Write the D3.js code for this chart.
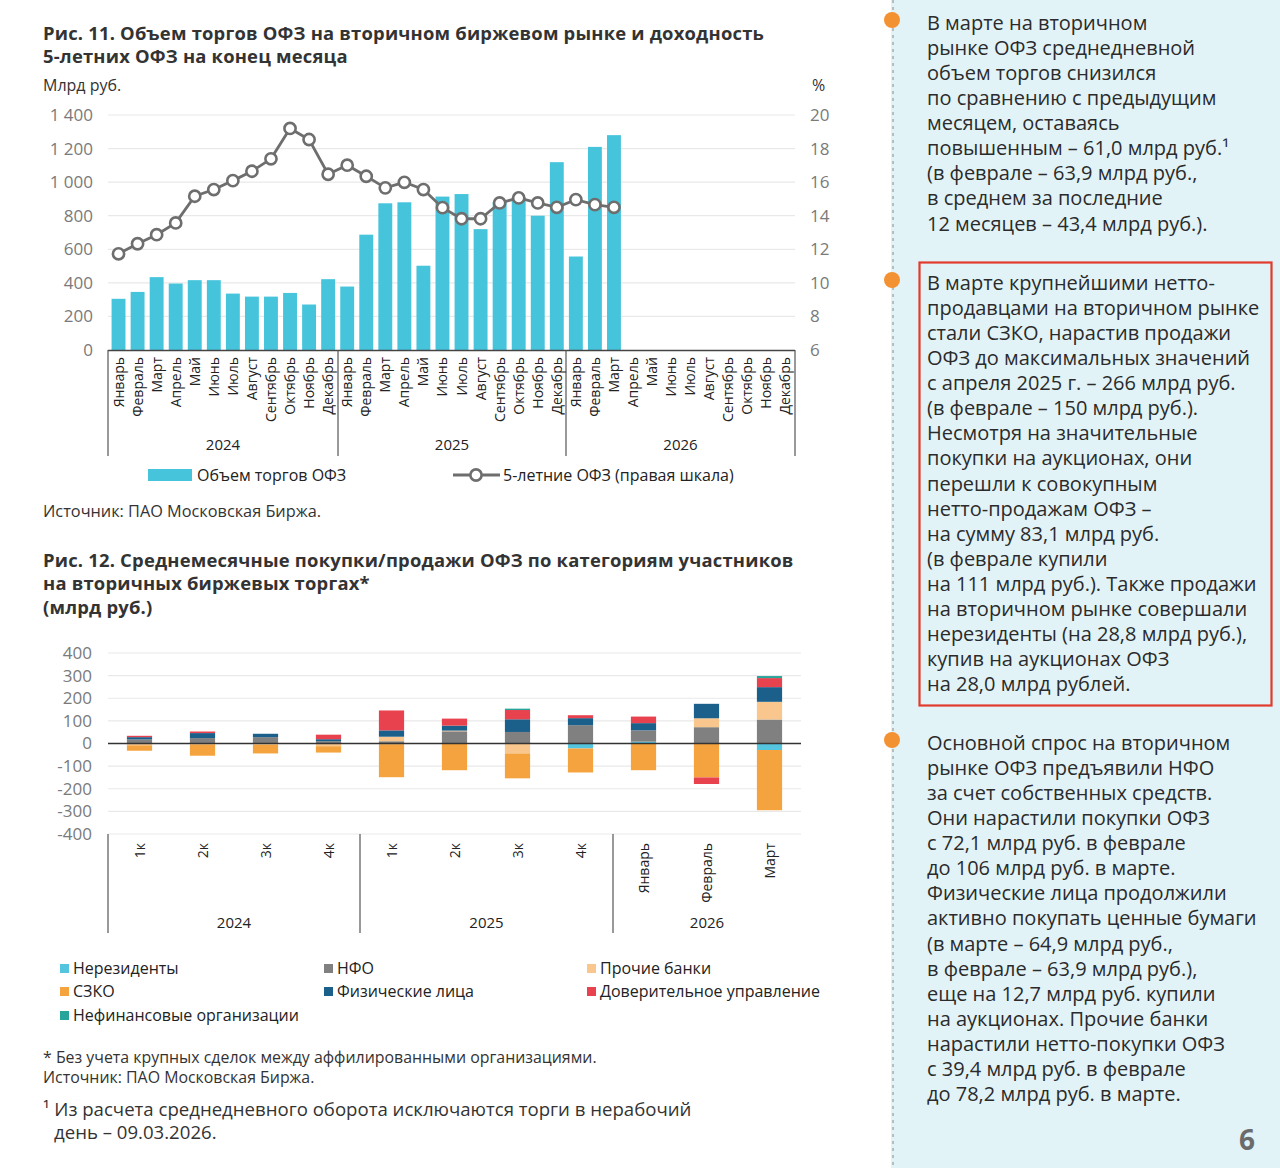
<!DOCTYPE html>
<html><head><meta charset="utf-8">
<script src="https://cdn.jsdelivr.net/npm/d3@7"></script>
<style>
html,body{margin:0;padding:0;background:#fff;}
svg text{font-family:"Open Sans",sans-serif;}
</style></head>
<body><svg id="page" width="1280" height="1168"></svg>
<script>
// ---------- DATA ----------
const years = ["2024","2025","2026"];
const monthNames = ["Январь","Февраль","Март","Апрель","Май","Июнь","Июль","Август","Сентябрь","Октябрь","Ноябрь","Декабрь"];
const volume = [305,346,434,396,416,416,336,318,318,340,271,422,
                378,687,874,880,502,914,929,720,880,910,800,1119,
                557,1210,1280];
const yield5 = [11.73,12.33,12.87,13.57,15.16,15.56,16.09,16.65,17.39,19.20,18.54,16.47,
                17.01,16.35,15.66,15.99,15.56,14.48,13.82,13.82,14.76,15.06,14.76,14.50,
                14.96,14.66,14.50];
const leftTicks = [0,200,400,600,800,1000,1200,1400];
const rightTicks = [6,8,10,12,14,16,18,20];

const periodLabels = ["1к","2к","3к","4к","1к","2к","3к","4к","Январь","Февраль","Март"];
const periodYears = ["2024","2024","2024","2024","2025","2025","2025","2025","2026","2026","2026"];
const nonres  = [0,0,0,0,-3,0,0,-22,8,0,-28.8];
const nfo     = [18,24,28,10,10,54,51,81,50,72.1,106];
const otherBanks = [-8,-4,-6,-12,20,3,-44,0,0,39.4,78.2];
const szko    = [-24,-50,-38,-28,-146,-118,-110,-106,-118,-150,-266];
const fiz     = [10,22,15,9,28,22,56,31,32,63.9,64.9];
const du      = [6,7,0,20,88,31,41,13,29,-29,40];
const nonfin  = [0,0,0,0,0,0,6,0,0,0,9];
const seriesNames = ["Нерезиденты","НФО","Прочие банки","СЗКО","Физические лица","Доверительное управление","Нефинансовые организации"];
const seriesValues = [nonres,nfo,otherBanks,szko,fiz,du,nonfin];
const seriesColors = ["#55c4df","#808080","#f9c78d","#f5a33e","#1b5f8b","#e8424f","#27a59b"];
const ticks2 = [-400,-300,-200,-100,0,100,200,300,400];

const text1 = ["В марте на вторичном","рынке ОФЗ среднедневной","объем торгов снизился","по сравнению с предыдущим","месяцем, оставаясь","повышенным – 61,0 млрд руб.¹","(в феврале – 63,9 млрд руб.,","в среднем за последние","12 месяцев – 43,4 млрд руб.)."];
const text2 = ["В марте крупнейшими нетто-","продавцами на вторичном рынке","стали СЗКО, нарастив продажи","ОФЗ до максимальных значений","с апреля 2025 г. – 266 млрд руб.","(в феврале – 150 млрд руб.).","Несмотря на значительные","покупки на аукционах, они","перешли к совокупным","нетто-продажам ОФЗ –","на сумму 83,1 млрд руб.","(в феврале купили","на 111 млрд руб.). Также продажи","на вторичном рынке совершали","нерезиденты (на 28,8 млрд руб.),","купив на аукционах ОФЗ","на 28,0 млрд рублей."];
const text3 = ["Основной спрос на вторичном","рынке ОФЗ предъявили НФО","за счет собственных средств.","Они нарастили покупки ОФЗ","с 72,1 млрд руб. в феврале","до 106 млрд руб. в марте.","Физические лица продолжили","активно покупать ценные бумаги","(в марте – 64,9 млрд руб.,","в феврале – 63,9 млрд руб.),","еще на 12,7 млрд руб. купили","на аукционах. Прочие банки","нарастили нетто-покупки ОФЗ","с 39,4 млрд руб. в феврале","до 78,2 млрд руб. в марте."];

// ---------- PAGE ----------
const svg = d3.select("#page");
const dark = "#333", grey = "#7a7a7a", gridC = "#e9e9e9";
const titleFont = "Roboto, sans-serif";

function title(lines, x, y0, lh){
  lines.forEach((t,i)=>svg.append("text").attr("x",x).attr("y",y0+i*lh)
    .attr("font-family",titleFont).attr("font-weight",700).attr("font-size",18.4)
    .attr("letter-spacing",0.2).attr("fill",dark).text(t));
}

// ---------- CHART 1 ----------
title(["Рис. 11. Объем торгов ОФЗ на вторичном биржевом рынке и доходность","5-летних ОФЗ на конец месяца"],43,39.5,23.5);
svg.append("text").attr("x",43).attr("y",91).attr("font-family",titleFont).attr("font-size",16).attr("fill",dark).text("Млрд руб.");
svg.append("text").attr("x",812).attr("y",91).attr("font-family",titleFont).attr("font-size",16).attr("fill",dark).text("%");

const allMonths = [];
years.forEach(y=>monthNames.forEach(m=>allMonths.push(y+"-"+m)));
const x1 = d3.scaleBand().domain(allMonths).range([109,795]).paddingInner(0.27).paddingOuter(0.135);
const yL = d3.scaleLinear().domain([0,1400]).range([350,115]);
const yR = d3.scaleLinear().domain([6,20]).range([350,115]);

const g1 = svg.append("g");
g1.selectAll("line.grid").data(leftTicks.slice(1)).join("line")
  .attr("x1",108).attr("x2",795).attr("y1",d=>yL(d)).attr("y2",d=>yL(d))
  .attr("stroke",gridC).attr("stroke-width",1.2);

const axL = g1.append("g").attr("transform","translate(93,0)")
  .call(d3.axisLeft(yL).tickValues(leftTicks).tickSize(0).tickPadding(0)
    .tickFormat(d=>d3.format(",")(d).replace(/,/g," ")));
axL.select(".domain").remove();
axL.selectAll("text").attr("font-size",17).attr("fill",grey).attr("font-family","Open Sans, sans-serif");

const axR = g1.append("g").attr("transform","translate(810,0)")
  .call(d3.axisRight(yR).tickValues(rightTicks).tickSize(0).tickPadding(0));
axR.select(".domain").remove();
axR.selectAll("text").attr("font-size",17).attr("fill",grey).attr("font-family","Open Sans, sans-serif");

g1.selectAll("rect.vol").data(volume).join("rect")
  .attr("x",(d,i)=>x1(allMonths[i])).attr("width",x1.bandwidth())
  .attr("y",d=>yL(d)).attr("height",d=>yL(0)-yL(d)).attr("fill","#46c4dc");

const cx = (d,i)=>x1(allMonths[i])+x1.bandwidth()/2;
g1.append("path").datum(yield5)
  .attr("d",d3.line().x(cx).y(d=>yR(d)))
  .attr("fill","none").attr("stroke","#6e6e6e").attr("stroke-width",2.8);
g1.selectAll("circle.pt").data(yield5).join("circle")
  .attr("cx",cx).attr("cy",d=>yR(d)).attr("r",5.6)
  .attr("fill","#fff").attr("stroke","#6e6e6e").attr("stroke-width",2.6);

// x axis chart 1
g1.append("line").attr("x1",108).attr("x2",795).attr("y1",350.5).attr("y2",350.5).attr("stroke","#444").attr("stroke-width",1.3);
[108,338,566,795].forEach(x=>g1.append("line").attr("x1",x).attr("x2",x).attr("y1",350).attr("y2",456).attr("stroke","#555").attr("stroke-width",1.2));
g1.selectAll("text.mon").data(allMonths).join("text")
  .attr("transform",d=>`translate(${x1(d)+x1.bandwidth()/2+5},357) rotate(-90)`)
  .attr("text-anchor","end").attr("font-size",14).attr("fill","#222")
  .text(d=>d.split("-")[1]);
[[108,338],[338,566],[566,795]].forEach((r,i)=>g1.append("text").attr("x",(r[0]+r[1])/2).attr("y",450)
  .attr("text-anchor","middle").attr("font-size",15).attr("fill","#222").text(years[i]));

// legend chart 1
g1.append("rect").attr("x",148).attr("y",469).attr("width",44).attr("height",12).attr("fill","#46c4dc");
g1.append("text").attr("x",197).attr("y",481).attr("font-size",16).attr("fill","#222").text("Объем торгов ОФЗ");
g1.append("line").attr("x1",453).attr("x2",500).attr("y1",475).attr("y2",475).attr("stroke","#6e6e6e").attr("stroke-width",2.8);
g1.append("circle").attr("cx",476).attr("cy",475).attr("r",5.6).attr("fill","#fff").attr("stroke","#6e6e6e").attr("stroke-width",2.6);
g1.append("text").attr("x",503).attr("y",481).attr("font-size",16).attr("fill","#222").text("5-летние ОФЗ (правая шкала)");
svg.append("text").attr("x",43).attr("y",517).attr("font-family",titleFont).attr("font-size",16.3).attr("fill",dark).text("Источник: ПАО Московская Биржа.");

// ---------- CHART 2 ----------
title(["Рис. 12. Среднемесячные покупки/продажи ОФЗ по категориям участников","на вторичных биржевых торгах*","(млрд руб.)"],43,566.5,23.5);

const idx = d3.range(periodLabels.length);
const x2 = d3.scaleBand().domain(idx).range([108,801]).paddingInner(0.6).paddingOuter(0.3);
const y2 = d3.scaleLinear().domain([-400,400]).range([834,653]);
const g2 = svg.append("g");
g2.selectAll("line.grid").data(ticks2.filter(d=>d!==0)).join("line")
  .attr("x1",108).attr("x2",801).attr("y1",d=>y2(d)).attr("y2",d=>y2(d))
  .attr("stroke",gridC).attr("stroke-width",1.2);
const ax2 = g2.append("g").attr("transform","translate(92,0)")
  .call(d3.axisLeft(y2).tickValues(ticks2).tickSize(0).tickPadding(0).tickFormat(d=>String(d)));
ax2.select(".domain").remove();
ax2.selectAll("text").attr("font-size",17).attr("fill",grey).attr("font-family","Open Sans, sans-serif");

const rows = idx.map(i=>{const o={i}; seriesNames.forEach((s,k)=>o[s]=seriesValues[k][i]); return o;});
const stack = d3.stack().keys(seriesNames).offset(d3.stackOffsetDiverging)(rows);
stack.forEach((layer,k)=>{
  g2.selectAll("rect.s"+k).data(layer).join("rect")
    .attr("x",d=>x2(d.data.i)).attr("width",x2.bandwidth())
    .attr("y",d=>y2(Math.max(d[0],d[1]))).attr("height",d=>Math.abs(y2(d[0])-y2(d[1])))
    .attr("fill",seriesColors[k]);
});
g2.append("line").attr("x1",108).attr("x2",801).attr("y1",y2(0)).attr("y2",y2(0)).attr("stroke","#333").attr("stroke-width",1.3);
[108,360,613].forEach(x=>g2.append("line").attr("x1",x).attr("x2",x).attr("y1",834).attr("y2",933).attr("stroke","#555").attr("stroke-width",1.2));
g2.selectAll("text.per").data(idx).join("text")
  .attr("transform",d=>`translate(${x2(d)+x2.bandwidth()/2+5},843) rotate(-90)`)
  .attr("text-anchor","end").attr("font-size",14).attr("fill","#222")
  .text(d=>periodLabels[d]);
[[108,360,"2024"],[360,613,"2025"],[613,801,"2026"]].forEach(r=>g2.append("text").attr("x",(r[0]+r[1])/2).attr("y",928)
  .attr("text-anchor","middle").attr("font-size",15).attr("fill","#222").text(r[2]));

// legend chart 2
const legPos = [[60,969],[324,969],[587,969],[60,992],[324,992],[587,992],[60,1016]];
seriesNames.forEach((s,k)=>{
  const [lx,ly]=legPos[k];
  g2.append("rect").attr("x",lx).attr("y",ly-5).attr("width",9).attr("height",9).attr("fill",seriesColors[k]);
  g2.append("text").attr("x",lx+13).attr("y",ly+5).attr("font-family",titleFont).attr("font-size",16).attr("fill","#222").text(s);
});
svg.append("text").attr("x",43).attr("y",1063).attr("font-family",titleFont).attr("font-size",15.9).attr("fill",dark).text("* Без учета крупных сделок между аффилированными организациями.");
svg.append("text").attr("x",43).attr("y",1083).attr("font-family",titleFont).attr("font-size",15.9).attr("fill",dark).text("Источник: ПАО Московская Биржа.");
svg.append("text").attr("x",43).attr("y",1116).attr("font-family",titleFont).attr("font-size",18.6).attr("fill",dark).text("¹ Из расчета среднедневного оборота исключаются торги в нерабочий");
svg.append("text").attr("x",54).attr("y",1139).attr("font-family",titleFont).attr("font-size",18.6).attr("fill",dark).text("день – 09.03.2026.");

// ---------- RIGHT PANEL ----------
svg.append("rect").attr("x",891).attr("y",0).attr("width",389).attr("height",1168).attr("fill","#e2f3f8");
svg.append("line").attr("x1",893).attr("x2",893).attr("y1",0).attr("y2",1168).attr("stroke","#888").attr("stroke-width",1).attr("stroke-dasharray","3,4");
[20,280,740].forEach(y=>svg.append("circle").attr("cx",892).attr("cy",y).attr("r",8).attr("fill","#f39232"));
svg.append("rect").attr("x",919.5).attr("y",262.5).attr("width",352).attr("height",443).attr("fill","none").attr("stroke","#e23b2e").attr("stroke-width",2.2);
function block(lines,y0){
  lines.forEach((t,i)=>svg.append("text").attr("x",927).attr("y",y0+i*25.07)
    .attr("font-size",20).attr("fill","#2b2b2b").attr("font-family","Open Sans, sans-serif").text(t));
}
block(text1,30);
block(text2,290);
block(text3,750);
svg.append("text").attr("x",1255).attr("y",1150).attr("text-anchor","end").attr("font-size",28).attr("font-weight",700).attr("fill","#6b6b6b").text("6");
</script></body></html>
